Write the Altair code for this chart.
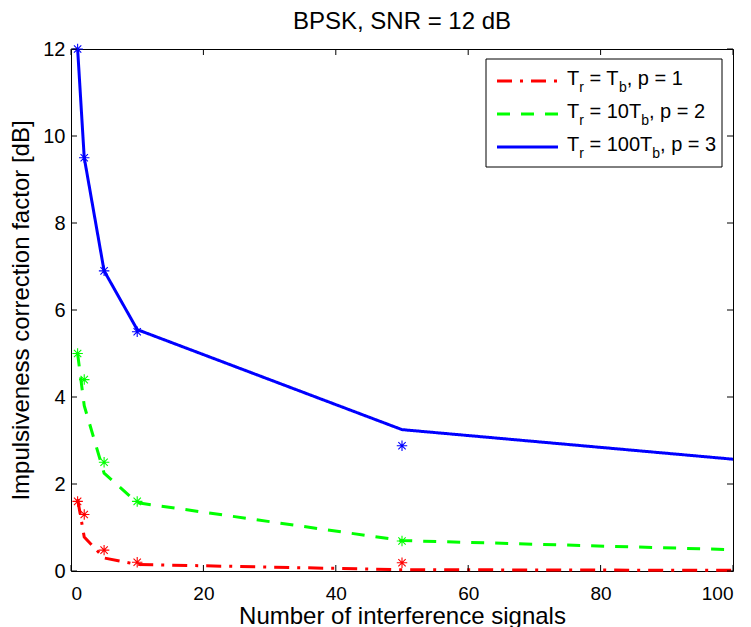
import altair as alt
import pandas as pd

FONT = "Liberation Sans"

# ---- data ----
x_line = [1, 2, 5, 10, 50, 100]
red_line = [1.65, 0.78, 0.30, 0.15, 0.03, 0.015]
green_line = [5.0, 3.8, 2.25, 1.57, 0.70, 0.49]
blue_line = [12.0, 9.5, 6.9, 5.55, 3.25, 2.57]

x_sim = [1, 2, 5, 10, 50]
red_sim = [1.6, 1.3, 0.48, 0.2, 0.19]
green_sim = [5.0, 4.4, 2.5, 1.6, 0.69]
blue_sim = [12.0, 9.5, 6.9, 5.5, 2.88]

series = ["p1", "p2", "p3"]
colors = ["#ff0000", "#00ff00", "#0000ff"]
dashes = [[15, 8, 3, 8], [13, 11], [1, 0]]

x_ticks = [0, 20, 40, 60, 80, 100]
y_ticks = [0, 2, 4, 6, 8, 10, 12]

legend_main = ["= T", "= 10T", "= 100T"]
legend_tail = [", p = 1", ", p = 2", ", p = 3"]

W, H = 662, 522

rows = []
for s, ys in zip(series, [red_line, green_line, blue_line]):
    for n, v in zip(x_line, ys):
        rows.append({"s": s, "n": n, "v": v})
df_line = pd.DataFrame(rows)

rows = []
for s, ys in zip(series, [red_sim, green_sim, blue_sim]):
    for n, v in zip(x_sim, ys):
        rows.append({"s": s, "n": n, "v": v})
df_sim = pd.DataFrame(rows)

xscale = alt.Scale(domain=[0, 100], nice=False, zero=False)
yscale = alt.Scale(domain=[0, 12], nice=False)
cscale = alt.Scale(domain=series, range=colors)
dscale = alt.Scale(domain=series, range=dashes)

xaxis = alt.Axis(values=x_ticks, title="Number of interference signals",
                 labelPadding=13, labelFontSize=19, titlePadding=1, format="d")
yaxis = alt.Axis(values=y_ticks, title="Impulsiveness correction factor [dB]",
                 labelPadding=6, titlePadding=9, format="d")

X = alt.X("n:Q", scale=xscale, axis=xaxis)
Y = alt.Y("v:Q", scale=yscale, axis=yaxis)

lines = alt.Chart(df_line).mark_line(strokeWidth=3).encode(
    x=X, y=Y,
    color=alt.Color("s:N", scale=cscale, legend=None),
    strokeDash=alt.StrokeDash("s:N", scale=dscale, legend=None),
    detail="s:N",
)

star = "M0,-1L0,1M-1,0L1,0M-0.7,-0.7L0.7,0.7M-0.7,0.7L0.7,-0.7"
points = alt.Chart(df_sim).mark_point(shape=star, filled=False, size=110,
                                      strokeWidth=1.1, opacity=1).encode(
    x=X, y=Y,
    stroke=alt.Stroke("s:N", scale=cscale, legend=None),
)

df_xt = pd.DataFrame({"n": x_ticks})
df_yt = pd.DataFrame({"v": y_ticks})
TL = 6
xt_bot = alt.Chart(df_xt).mark_rule(color="black", strokeWidth=1).encode(
    x=X, y=alt.value(H), y2=alt.value(H - TL))
xt_top = alt.Chart(df_xt).mark_rule(color="black", strokeWidth=1).encode(
    x=X, y=alt.value(0), y2=alt.value(TL))
yt_left = alt.Chart(df_yt).mark_rule(color="black", strokeWidth=1).encode(
    y=Y, x=alt.value(0), x2=alt.value(TL))
yt_right = alt.Chart(df_yt).mark_rule(color="black", strokeWidth=1).encode(
    y=Y, x=alt.value(W), x2=alt.value(W - TL))

one = pd.DataFrame({"a": [0]})

# ---- legend (decoration) ----
LX0, LX1, LY0, LY1 = 415, 651, 10, 118
leg_box = alt.Chart(one).mark_rect(fill="white", stroke="black", strokeWidth=1).encode(
    x=alt.value(LX0), x2=alt.value(LX1), y=alt.value(LY0), y2=alt.value(LY1))

row_y = [32, 65, 98]
layers_leg = [leg_box]
for i in range(3):
    layers_leg.append(
        alt.Chart(one).mark_rule(strokeWidth=3, color=colors[i], strokeDash=dashes[i]).encode(
            x=alt.value(426), x2=alt.value(487), y=alt.value(row_y[i]))
    )

CW = {"T": 0.611, "r": 0.333, "b": 0.556, " ": 0.278, "=": 0.584,
      ",": 0.278, "p": 0.556}
def width(txt, fs):
    return sum(CW.get(c, 0.556) for c in txt) * fs

MFS, SFS = 20, 14
TX0 = 496
for i in range(3):
    pieces = [("T", False, 0), ("r", True, 0), (legend_main[i], False, 0.278 * MFS),
              ("b", True, 0), (legend_tail[i], False, 0)]
    xpos = TX0
    for txt, sub, gap in pieces:
        xpos += gap
        fs = SFS if sub else MFS
        ypos = row_y[i] + (11 if sub else 4)
        layers_leg.append(
            alt.Chart(one).mark_text(text=txt, align="left", baseline="alphabetic",
                                     fontSize=fs, font=FONT, color="black").encode(
                x=alt.value(xpos), y=alt.value(ypos))
        )
        xpos += width(txt, fs)

chart = alt.layer(lines, points, xt_bot, xt_top, yt_left, yt_right, *layers_leg).properties(
    width=W, height=H,
    padding={"left": 71, "top": 49, "right": 18, "bottom": 56},
    autosize=alt.AutoSizeParams(type="none"),
    title=alt.TitleParams("BPSK, SNR = 12 dB", fontSize=24, font=FONT,
                          fontWeight="normal", color="black", offset=5,
                          anchor="middle"),
).configure_view(stroke="black", strokeWidth=1).configure_axis(
    grid=False, domain=False, ticks=False, tickSize=0,
    labelFont=FONT, labelFontSize=20, labelColor="black",
    titleFont=FONT, titleFontSize=24, titleFontWeight="normal", titleColor="black",
)

chart.save("out.html", embed_options={"renderer": "svg", "actions": False})
